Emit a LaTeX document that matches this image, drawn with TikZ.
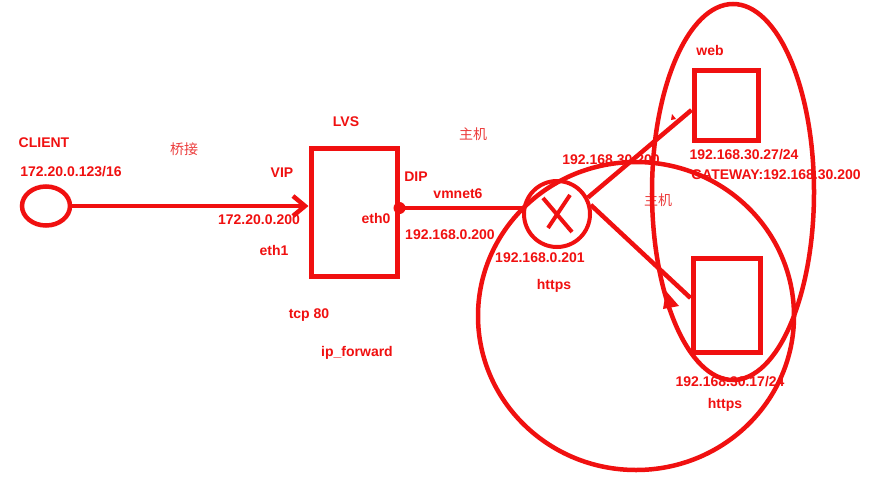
\documentclass[tikz,border=0pt]{standalone}
\usepackage{fontspec}
\setmainfont{Liberation Sans}
\newfontfamily\cjk{Noto Sans CJK SC}
\usetikzlibrary{arrows.meta,shapes.geometric,calc}
\definecolor{rd}{RGB}{240,16,16}
\definecolor{rdl}{RGB}{236,60,60}
\begin{document}
\begin{tikzpicture}[x=1pt,y=-1pt,
  txt/.style={text=rd, font=\fontsize{14}{16}\selectfont\bfseries, inner sep=0pt},
  cn/.style={text=rdl, font=\fontsize{14}{16}\selectfont\cjk, inner sep=0pt},
  wire/.style={draw=rd, line width=4.5pt},
  box/.style={draw=rd, line width=5pt, rectangle, inner sep=0pt},
]
\useasboundingbox[fill=white] (0,0) rectangle (869,490);
% texts
\node[txt] (tclient) at (44,143) {CLIENT};
\node[txt] (tcip) at (71,172) {172.20.0.123/16};
\node[cn] (tbridge) at (184,149) {桥接};
\node[txt] (tvip) at (282,173) {VIP};
\node[txt] (tvipip) at (259,220) {172.20.0.200};
\node[txt] (teth1) at (274,250) {eth1};
\node[txt] (tlvs) at (346,122) {LVS};
\node[cn] (thost1) at (473,134) {主机};
\node[txt] (tdip) at (416,177) {DIP};
\node[txt] (tvmnet) at (458,194) {vmnet6};
\node[txt] (teth0) at (376,218) {eth0};
\node[txt] (tdipip) at (450,235) {192.168.0.200};
\node[txt] (ttcp) at (309,315) {tcp 80};
\node[txt] (tipf) at (357,353) {ip\_forward};
\node[txt] (trip) at (540,258) {192.168.0.201};
\node[txt] (thttps1) at (554,286) {https};
\node[txt] (tgwip) at (611,160) {192.168.30.200};
\node[cn] (thost2) at (658,200) {主机};
\node[txt] (tweb) at (710,50) {web};
\node[txt] (twebip) at (744,155) {192.168.30.27/24};
\node[txt] (tgw) at (776,175) {GATEWAY:192.168.30.200};
\node[txt] (tsrvip) at (730,382) {192.168.30.17/24};
\node[txt] (thttps2) at (725,405) {https};
% big shapes
\draw[wire] (636,316) ellipse [x radius=158, y radius=154];
\draw[wire] (733,192) ellipse [x radius=81, y radius=188];
% nodes
\node[draw=rd, line width=4.5pt, ellipse, minimum width=48pt, minimum height=39pt, inner sep=0pt] (client) at (46,206) {};
\node[box, minimum width=86pt, minimum height=128pt] (lvs) at (354,212) {};
\node[draw=rd, line width=4pt, circle, minimum size=66pt, inner sep=0pt] (xc) at (557,214) {};
\node[box, minimum width=64pt, minimum height=70pt] (web) at (726,105) {};
\node[box, minimum width=67pt, minimum height=94pt] (srv) at (726.5,305) {};
\coordinate (dot) at (lvs.east |- 0,208);
% X inside router
\draw[wire, line width=4pt] ($(xc.center)+(-14,-16)$) -- ($(xc.center)+(15,18)$);
\draw[wire, line width=4pt] ($(xc.center)+(13,-19)$) -- ($(xc.center)+(-9,14)$);
% connectors
\draw[wire, -{Straight Barb[length=12pt,width=20pt,line width=4.5pt]}] (client.east) -- (client.east -| lvs.west);
\fill[rd] (dot) circle (6);
\draw[wire] (dot) -- (dot -| xc.west);
\draw[wire] (xc.28) -- ([yshift=-5pt]web.west);
\draw[wire] (xc.15) -- ([yshift=7pt]srv.west);
% arrowhead on tall ellipse
\fill[rd] (666,291) -- (679,306) -- (663,309) -- cycle;
\fill[rd] (672,114) -- (676,119) -- (671,120) -- cycle;
\end{tikzpicture}
\end{document}
